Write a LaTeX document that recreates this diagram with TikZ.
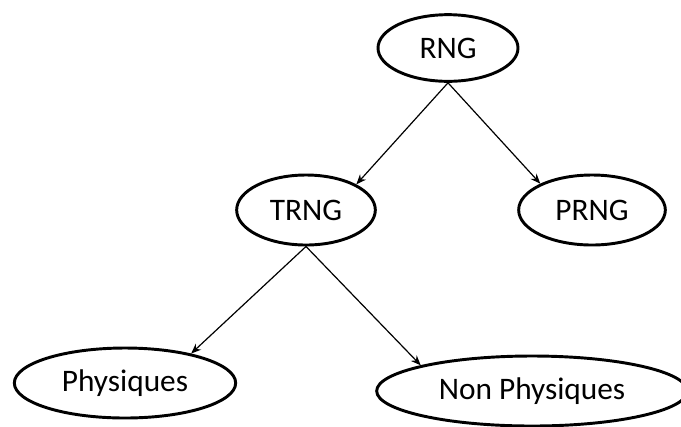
\documentclass[tikz,border=0pt]{standalone}
\usepackage{fontspec}
\setmainfont{Carlito}
\usepackage{tikz}
\usetikzlibrary{shapes.geometric,arrows.meta}

\begin{document}
\begin{tikzpicture}[x=0.75pt,y=-0.75pt,->,>={Stealth[length=7.5pt,width=6pt]},line width=0.9pt]
  \tikzstyle{gen}=[ellipse,draw,line width=2.2pt,inner sep=0pt,minimum height=50pt,font=\fontsize{23.5}{28}\selectfont]

  \useasboundingbox (0,0) rectangle (681,426);
  \clip (0,0) rectangle (681,426);

  % racine
  \node[gen,minimum width=105pt] (rng) at (448,48) {RNG};

  % second niveau
  \node[gen,minimum width=104pt,minimum height=52.5pt] (trng) at (306,210) {TRNG};
  \node[gen,minimum width=110pt,minimum height=52.5pt] (prng) at (592,210) {PRNG};

  % feuilles
  \node[gen,minimum width=166pt,minimum height=52.5pt] (phys) at (125,383) {Physiques};
  \node[gen,minimum width=233pt,minimum height=52.5pt] (nonphys) at (532,391) {Non Physiques};

  \draw (rng.south) -- (trng.27);
  \draw (rng.south) -- (prng.153);
  \draw (trng.south) -- (phys.24);
  \draw (trng.south) -- (nonphys.167);
\end{tikzpicture}
\end{document}
